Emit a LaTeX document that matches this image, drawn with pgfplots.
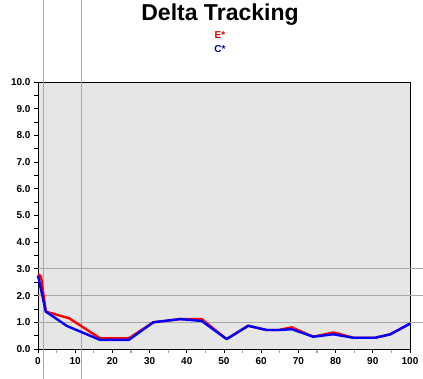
\documentclass[border=0pt]{standalone}
\usepackage{pgfplots}
\pgfplotsset{compat=1.18}
\usepackage{fontspec}
\setmainfont{Liberation Sans}
\definecolor{bgc}{HTML}{E6E6E6}
\definecolor{glc}{HTML}{A8A8A8}
\definecolor{lred}{HTML}{FF0000}
\definecolor{lblue}{HTML}{0000FF}
\begin{document}
\begin{tikzpicture}[x=1pt,y=1pt]
\useasboundingbox (-38,-30) rectangle (385,349);
\begin{axis}[
  at={(0,0)}, anchor=origin,
  scale only axis, width=372pt, height=267pt,
  xmin=0, xmax=100, ymin=0, ymax=10,
  axis background/.style={fill=bgc},
  axis line style={black, line width=0.8pt},
  xtick={0,10,...,100},
  minor xtick={5,15,...,95},
  ytick={0,1,...,10},
  minor ytick={0.5,1.5,...,9.5},
  tick align=outside,
  major tick length=4pt,
  minor tick length=4pt,
  tick style={black, line width=0.8pt},
  minor x tick style={glc, line width=1.2pt},
  xtick pos=bottom, ytick pos=left,
  ticklabel style={font=\bfseries\fontsize{10}{12}\selectfont},
  yticklabel style={/pgf/number format/fixed, /pgf/number format/fixed zerofill, /pgf/number format/precision=1},
  xticklabel style={/pgf/number format/fixed, /pgf/number format/precision=0, yshift=-1pt},
  /pgf/number format/assume math mode=true,
  clip=false,
]
\draw[glc, line width=1.1pt] (axis cs:0,1) -- (axis cs:103.5,1);
\draw[glc, line width=1.1pt] (axis cs:0,2) -- (axis cs:103.5,2);
\draw[glc, line width=1.1pt] (axis cs:0,3) -- (axis cs:103.5,3);
\draw[glc, line width=0.9pt] (axis cs:1.344,-1.13) -- (axis cs:1.344,13.1);
\draw[glc, line width=0.9pt] (axis cs:11.56,-1.13) -- (axis cs:11.56,13.1);
\addplot[lred, line width=2.4pt, line join=round] coordinates {
(0,2.8)(0.8,2.72)(2.1,1.4)(8.4,1.15)(16.7,0.40)(24.4,0.40)(31,1.0)(38.2,1.12)(44,1.12)(50.7,0.37)(56.5,0.87)(61.5,0.71)(64.6,0.71)(68.2,0.81)(74,0.46)(79.4,0.62)(84.8,0.42)(90.6,0.42)(94.7,0.55)(100,0.95)};
\addplot[lblue, line width=2.4pt, line join=round] coordinates {
(0,2.75)(2.1,1.4)(7.8,0.86)(16.7,0.34)(24.4,0.34)(31,1.0)(38.2,1.12)(44,1.05)(50.7,0.37)(56.5,0.87)(61.5,0.71)(64.6,0.71)(68.2,0.74)(74,0.46)(79.4,0.55)(84.8,0.42)(90.6,0.42)(94.7,0.55)(100,0.95)};
\end{axis}
\node[font=\bfseries\fontsize{23}{26}\selectfont] at (182,334) {Delta Tracking};
\node[font=\bfseries\fontsize{10}{12}\selectfont, text=red!85!black] at (182,314) {E*};
\node[font=\bfseries\fontsize{10}{12}\selectfont, text=blue!65!black] at (182,300) {C*};
\end{tikzpicture}
\end{document}
